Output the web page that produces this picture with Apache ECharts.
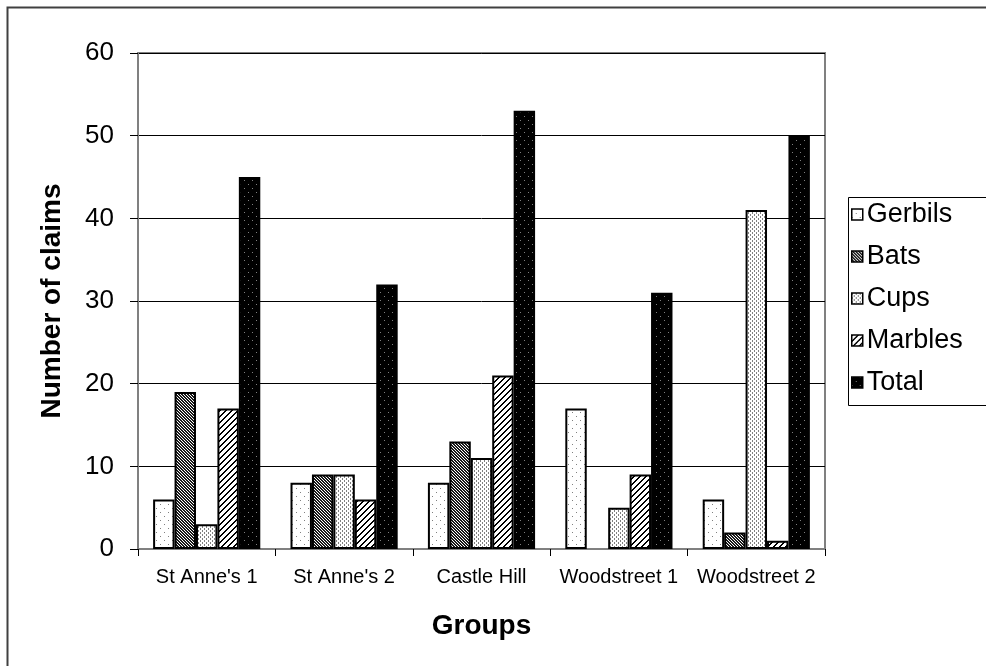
<!DOCTYPE html>
<html><head><meta charset="utf-8">
<script src="https://cdn.jsdelivr.net/npm/echarts@6/dist/echarts.min.js"></script>
<style>html,body{margin:0;padding:0;background:#fff}#c{width:986px;height:666px}</style>
</head><body><div id="c"></div>
<script>
var categories = ["St Anne's 1", "St Anne's 2", "Castle Hill", "Woodstreet 1", "Woodstreet 2"];
var gerbils = [6, 8, 8, 17, 6];
var bats = [19, 9, 13, 0, 2];
var cups = [3, 9, 11, 5, 41];
var marbles = [17, 6, 21, 9, 1];
var total = [45, 32, 53, 31, 50];
var seriesNames = ["Gerbils", "Bats", "Cups", "Marbles", "Total"];
var yTicks = [0, 10, 20, 30, 40, 50, 60];

function pat(w, h, bg, draw) {
  var c = document.createElement('canvas'); c.width = w; c.height = h;
  var g = c.getContext('2d'); g.fillStyle = bg; g.fillRect(0, 0, w, h); draw(g);
  return { image: c, repeat: 'repeat' };
}
var pGerbils = pat(8, 8, '#fff', function (g) { g.fillStyle = '#808080'; g.fillRect(0, 0, 1, 1); g.fillRect(4, 4, 1, 1); });
var pBats = pat(3, 3, '#fff', function (g) { g.fillStyle = '#1a1a1a'; for (var y = 0; y < 3; y++) for (var x = 0; x < 3; x++) { if (((x - y) % 3 + 3) % 3 !== 2) g.fillRect(x, y, 1, 1); } });
var pCups = pat(4, 4, '#fff', function (g) { g.fillStyle = '#808080'; g.fillRect(0, 0, 1, 2); g.fillRect(2, 2, 1, 2); });
var pMarbles = pat(6, 6, '#fff', function (g) { g.fillStyle = '#000'; for (var i = 0; i < 6; i++) { g.fillRect((5 - i) % 6, i, 2, 1); if ((5 - i) + 2 > 6) g.fillRect(0, i, (5 - i) + 2 - 6, 1); } });
var pTotal = pat(8, 8, '#000', function (g) { g.fillStyle = '#808080'; g.fillRect(0, 0, 1, 1); g.fillRect(4, 4, 1, 1); });
var patterns = [pGerbils, pBats, pCups, pMarbles, pTotal];
var dataArr = [gerbils, bats, cups, marbles, total];

var chart = echarts.init(document.getElementById('c'), null, { renderer: 'canvas' });
var font = 'Liberation Sans, Arial, sans-serif';
var series = seriesNames.map(function (n, i) {
  return {
    name: n, type: 'bar', barGap: '0%', barCategoryGap: '22%',
    data: dataArr[i].map(function (v) {
      return v === 0 ? { value: v, itemStyle: { borderWidth: 0 } } : v;
    }),
    itemStyle: { color: patterns[i], borderColor: '#000', borderWidth: 2 },
    emphasis: { disabled: true }
  };
});
chart.setOption({
  animation: false,
  backgroundColor: '#fff',
  textStyle: { fontFamily: font },
  grid: { left: 138, top: 53, right: 161, bottom: 117, show: true, borderColor: '#808080', borderWidth: 2, backgroundColor: 'transparent' },
  xAxis: {
    type: 'category', data: categories,
    name: 'Groups', nameLocation: 'middle', nameGap: 63,
    nameTextStyle: { fontSize: 28, fontWeight: 'bold', color: '#000', fontFamily: font },
    axisLine: { lineStyle: { color: '#808080', width: 2 } },
    axisTick: { show: true, interval: 0, length: 7, lineStyle: { color: '#000' } },
    axisLabel: { fontSize: 20, interval: 0, color: '#000', margin: 18, fontFamily: font }
  },
  yAxis: {
    type: 'value', min: 0, max: 60, interval: 10,
    name: 'Number of claims', nameLocation: 'middle', nameGap: 72,
    nameTextStyle: { fontSize: 28, fontWeight: 'bold', color: '#000', fontFamily: font },
    axisLine: { show: true, lineStyle: { color: '#808080', width: 2 } },
    axisTick: { show: true, length: 8, lineStyle: { color: '#000' } },
    axisLabel: { fontSize: 26, color: '#000', margin: 24, fontFamily: font,
      formatter: function (v) { return yTicks.indexOf(v) >= 0 ? String(v) : ''; } },
    splitLine: { lineStyle: { color: '#000', width: 1 } }
  },
  legend: {
    orient: 'vertical', left: 851, top: 201, itemGap: 15, itemWidth: 11, itemHeight: 11,
    icon: 'rect', padding: 0,
    textStyle: { fontSize: 27, color: '#000', fontFamily: font, padding: [0, 0, 0, -1] },
    data: seriesNames,
    itemStyle: { borderColor: '#000', borderWidth: 1.5 }
  },
  graphic: [
    { type: 'rect', left: 5, top: 5, shape: { width: 1000, height: 700 }, style: { fill: 'none', stroke: '#404040', lineWidth: 2 }, z: 100 },
    { type: 'rect', left: 846, top: 195, shape: { width: 160, height: 208 }, style: { fill: 'none', stroke: '#000', lineWidth: 1 }, z: 100 }
  ],
  series: series
});
</script></body></html>
